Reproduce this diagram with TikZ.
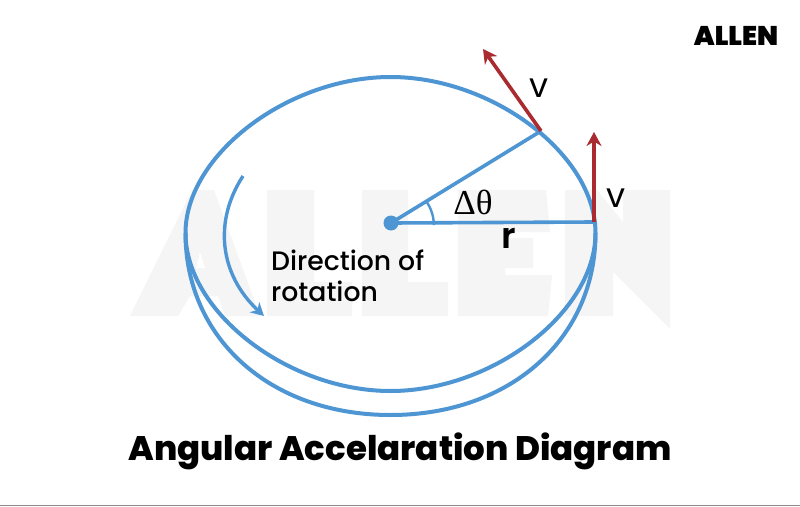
\documentclass[tikz,border=0pt]{standalone}
\usepackage{fontspec}
\setmainfont{Poppins}
\newfontfamily\ttl{Poppins ExtraBold}
\newfontfamily\med{Poppins SemiBold}
\newfontfamily\mdm{Poppins Medium}
\newfontfamily\blk{Poppins Black}
\newfontfamily\lib{Liberation Serif}
\usetikzlibrary{arrows.meta}
\definecolor{bluec}{HTML}{4E95D3}
\definecolor{redc}{HTML}{A92B30}
\definecolor{wm}{HTML}{F5F5F5}
\tikzset{
 curve/.style={draw=bluec,line width=4pt},
 spoke/.style={draw=bluec,line width=3.6pt},
 vel/.style={draw=redc,line width=3.6pt,-{Stealth[length=14pt,width=15pt]}},
 lab/.style={inner sep=0pt,text=black,font=\fontsize{34}{34}\selectfont},
}
\begin{document}
\begin{tikzpicture}[x=1pt,y=-1pt]
\useasboundingbox (0,0) rectangle (800,506);
\fill[white] (0,0) rectangle (800,506);
% watermark
\fill[wm] (130,316) -- (192,190) -- (214,190) -- (260,316) -- (225,316) -- (218,296) -- (190,296) -- (178,316) -- cycle;
\fill[white] (196,268) -- (200,252) -- (205,268) -- cycle;
\fill[wm] (267,190) -- (314,190) -- (314,282) -- (352,282) -- (352,316) -- (267,316) -- cycle;
\fill[wm] (362,190) -- (408,190) -- (408,282) -- (448,282) -- (448,316) -- (362,316) -- cycle;
\fill[wm] (458,190) -- (546,190) -- (550,232) -- (510,232) -- (510,238) -- (533,238) -- (533,268) -- (505,268) -- (505,275) -- (552,275) -- (548,316) -- (458,316) -- cycle;
\fill[wm] (565,190) -- (597,190) -- (623,222) -- (623,190) -- (670,190) -- (670,329) -- (613,272) -- (613,316) -- (565,316) -- cycle;
\fill[black!45] (0,504.5) rectangle (800,506);
% curves
\coordinate (c) at (391,223);
\coordinate (p1) at (594,222);
\coordinate (p2) at (541,131);
\coordinate (t1) at (594,132);
\coordinate (t2) at (483,49);
\coordinate (L) at (185.5,233);
\coordinate (R) at (595.5,233);
\draw[curve] (L) .. controls (185.5,155) and (288,77) .. (390.5,77)
  .. controls (493,77) and (595.5,155) .. (R)
  .. controls (595.5,312) and (493,391) .. (390.5,391)
  .. controls (288,391) and (185.5,312) .. (L);
\draw[curve] (L) .. controls (185.5,339) and (271,415) .. (390.5,415)
  .. controls (510,415) and (595.5,339) .. (R);
\draw[spoke] (c) -- (p1);
\draw[spoke] (c) -- (p2);
\draw[draw=bluec,line width=2.4pt] (426,201) arc [start angle=-36,end angle=0,radius=41];
\fill[bluec] (c) circle (7.5);
\draw[vel] (p1) -- (t1);
\draw[vel] (p2) -- (t2);
\draw[draw=bluec,line width=3.4pt,-{Stealth[length=13pt,width=14pt]}] (243,176) .. controls (213,222) and (220,275) .. (264,316);
% labels
\node[lab] (v1) at (539,88.5) {v};
\node[lab] (v2) at (616,198.5) {v};
\node[inner sep=0pt,font=\med\fontsize{36}{36}\selectfont] (r) at (509,238.5) {r};
\node[inner sep=0pt,font=\lib\fontsize{35}{35}\selectfont] (dt) at (473,202) {Δθ};
\node[anchor=north west,inner sep=0pt,align=left,font=\mdm\fontsize{26.7}{31}\selectfont] (dir) at (271,249.5) {Direction of\\rotation};
\node[inner sep=0pt,font=\ttl\fontsize{34}{34}\selectfont] (title) at (400,451) {Angular Accelaration Diagram};
\node[inner sep=0pt,font=\blk\fontsize{27}{27}\selectfont] (logo) at (736,35.5) {ALLEN};
\end{tikzpicture}
\end{document}
